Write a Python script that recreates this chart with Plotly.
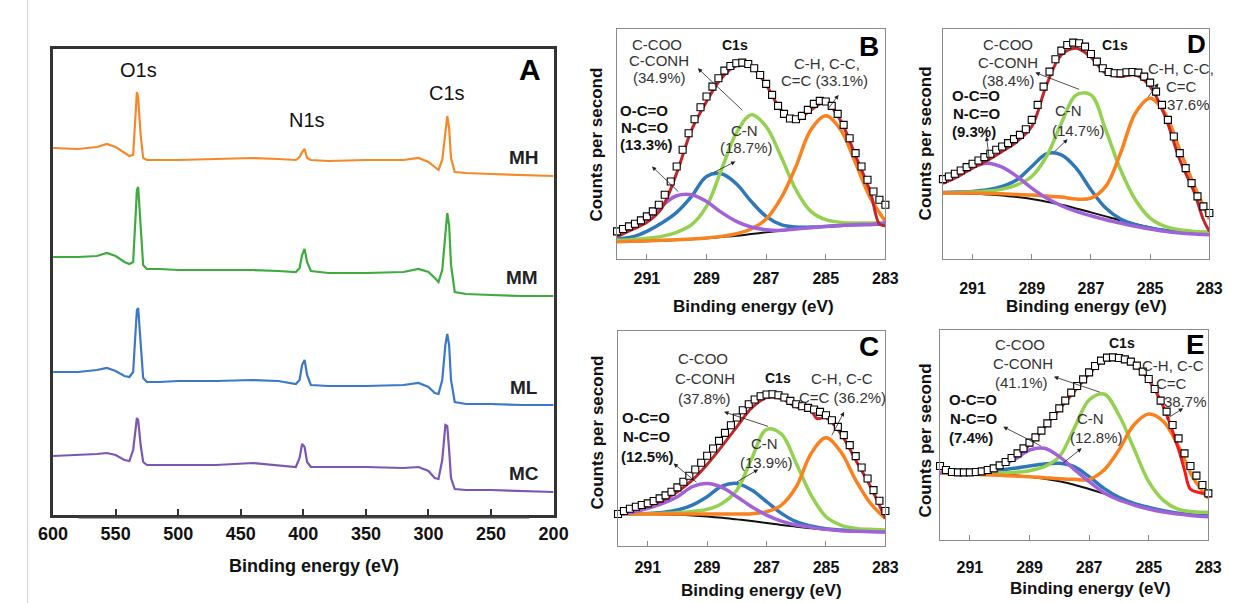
import plotly.graph_objects as go

W, H = 1238, 603
FONT = "Arial, 'Liberation Sans', sans-serif"

# ---------------- Panel A: survey spectra ----------------
survey_energy = [600, 580, 565, 557, 550, 543, 539, 536, 534, 533, 532, 530, 528, 525, 515, 500, 470, 440,
                 420, 406, 403, 401, 399, 397, 394, 380, 350, 320, 308, 300, 295, 292, 289, 286.5, 285,
                 283.5, 282, 279, 270, 250, 225, 200]
survey_mh = [367, 366, 368, 371, 368, 362, 359, 360, 397, 423, 417, 380, 357, 355, 355, 355, 356, 357,
             356, 355, 358, 363, 366, 357, 355, 354, 355, 355, 357, 353, 348, 345, 355, 385, 399,
             387, 357, 343, 342, 341, 340, 339]
survey_mm = [258, 258, 259, 262, 259, 253, 251, 253, 300, 325, 328, 285, 250, 246, 246, 245, 245, 245,
             244, 243, 247, 260, 266, 253, 244, 242, 242, 243, 246, 243, 237, 233, 245, 285, 302,
             290, 250, 223, 221, 220, 219, 219]
survey_ml = [143, 143, 145, 147, 144, 139, 138, 143, 185, 205, 207, 175, 137, 133, 133, 134, 134, 135,
             134, 131, 135, 150, 155, 140, 130, 129, 129, 130, 132, 128, 122, 121, 135, 170, 181,
             170, 135, 113, 111, 111, 110, 110]
survey_mc = [59, 60, 61, 62, 60, 55, 54, 65, 90, 97, 95, 70, 53, 50, 50, 50, 50, 52,
             50, 48, 57, 71, 68, 53, 48, 48, 48, 47, 48, 44, 37, 36, 55, 90, 89,
             65, 37, 26, 25, 25, 24, 23]
survey_names = ["MH", "MM", "ML", "MC"]
survey_colors = ["#f5892a", "#3eab3e", "#3b78c6", "#7c57b2"]
survey_ticks = [600, 550, 500, 450, 400, 350, 300, 250, 200]

# ---------------- C1s panels (B, C, D, E) ----------------
comp_energy = [292.0, 291.5, 291.0, 290.5, 290.0, 289.5, 289.0, 288.5, 288.0, 287.5,
               287.0, 286.5, 286.0, 285.5, 285.0, 284.5, 284.0, 283.5, 283.0]
data_energy = [292.0, 291.8, 291.6, 291.4, 291.2, 291.0, 290.8, 290.6, 290.4, 290.2,
               290.0, 289.8, 289.6, 289.4, 289.2, 289.0, 288.8, 288.6, 288.4, 288.2,
               288.0, 287.8, 287.6, 287.4, 287.2, 287.0, 286.8, 286.6, 286.4, 286.2,
               286.0, 285.8, 285.6, 285.4, 285.2, 285.0, 284.8, 284.6, 284.4, 284.2,
               284.0, 283.8, 283.6, 283.4, 283.2, 283.0]
c1s_ticks = [291, 289, 287, 285, 283]

# Panel B
b_data = [83, 90, 98, 106, 116, 128, 143, 163, 193, 233, 278, 328, 378, 420, 456, 488, 518, 543, 566, 580,
          588, 590, 586, 573, 553, 526, 493, 460, 436, 422, 420, 430, 448, 466, 475, 473, 460, 436, 403, 363,
          318, 278, 238, 203, 178, 163]
b_env_e = [292, 291.5, 291, 290.5, 290, 289.5, 289, 288.5, 288, 287.5, 287, 286.5, 286, 285.5, 285,
           284.5, 284, 283.5, 283.2, 283]
b_env = [68, 88, 110, 153, 258, 388, 473, 543, 580, 578, 523, 448, 416, 448, 470, 415, 310, 200, 105, 100]
b_black = [52, 53, 54, 55, 57, 59, 62, 66, 70, 75, 80, 85, 90, 94, 98, 101, 103, 104, 105]
b_purple = [68, 91, 123, 160, 190, 193, 173, 140, 113, 96, 88, 86, 90, 94, 98, 101, 103, 104, 108]
b_blue = [60, 66, 83, 108, 140, 188, 248, 256, 226, 173, 128, 103, 96, 96, 98, 101, 103, 104, 105]
b_green = [56, 58, 62, 68, 80, 103, 158, 268, 378, 433, 398, 308, 208, 143, 118, 110, 108, 108, 108]
b_orange = [52, 53, 54, 56, 58, 60, 63, 68, 76, 90, 120, 183, 278, 388, 430, 388, 288, 183, 113]

# Panel C
c_data = [96, 105, 112, 118, 123, 128, 135, 143, 152, 163, 176, 193, 211, 230, 250, 271, 293, 316, 340, 363,
          386, 408, 426, 440, 450, 455, 456, 453, 446, 436, 426, 420, 415, 410, 403, 393, 378, 358, 333, 303,
          270, 236, 203, 168, 136, 105]
c_env_e = [292, 291.5, 291, 290.5, 290, 289.5, 289, 288.5, 288, 287.5, 287, 286.5, 286, 285.5, 285.3,
           285, 284.5, 284, 283.5, 283]
c_env = [93, 108, 120, 136, 163, 198, 245, 300, 358, 415, 446, 443, 418, 406, 383, 386, 338, 258, 178, 83]
c_black = [96, 96, 96, 95, 94, 92, 89, 85, 80, 75, 69, 63, 58, 53, 49, 46, 44, 43, 43]
c_purple = [93, 101, 113, 128, 148, 178, 188, 176, 148, 118, 93, 75, 63, 56, 50, 46, 44, 43, 42]
c_blue = [96, 97, 98, 101, 108, 123, 148, 180, 188, 168, 133, 98, 73, 60, 52, 48, 45, 44, 43]
c_green = [96, 96, 97, 98, 100, 104, 110, 128, 168, 263, 350, 336, 248, 153, 88, 63, 53, 50, 48]
c_orange = [96, 96, 96, 96, 96, 96, 96, 96, 96, 97, 103, 123, 178, 278, 325, 283, 198, 128, 83]

# Panel D
d_data = [240, 248, 256, 266, 276, 286, 296, 306, 316, 328, 338, 348, 360, 373, 390, 418, 463, 518, 563, 600,
          626, 643, 650, 648, 638, 616, 593, 573, 562, 558, 558, 561, 562, 560, 548, 530, 503, 463, 418, 368,
          318, 273, 228, 188, 158, 138]
d_env_e = [292, 291.5, 291, 290.5, 290, 289.5, 289, 288.5, 288, 287.5, 287, 286.5, 286, 285.5, 285,
           284.5, 284, 283.5, 283.2, 283]
d_env = [228, 248, 273, 296, 323, 353, 398, 523, 613, 633, 606, 558, 548, 553, 518, 430, 298, 198, 118, 83]
d_black = [198, 197, 196, 194, 191, 186, 180, 172, 163, 152, 140, 128, 116, 105, 95, 87, 81, 78, 76]
d_purple = [228, 248, 276, 288, 276, 248, 213, 183, 160, 143, 130, 118, 108, 98, 90, 83, 78, 75, 73]
d_blue = [200, 201, 203, 208, 218, 238, 278, 316, 313, 273, 208, 153, 120, 103, 93, 86, 81, 78, 76]
d_green = [198, 199, 201, 204, 210, 223, 248, 308, 408, 493, 493, 388, 268, 178, 123, 98, 88, 83, 81]
d_orange = [198, 198, 198, 197, 196, 194, 192, 189, 186, 180, 183, 218, 318, 438, 483, 438, 328, 218, 120]

# Panel E
e_data = [222, 210, 204, 203, 203, 203, 204, 206, 210, 215, 224, 234, 246, 260, 275, 292, 308, 328, 350, 372,
          395, 418, 442, 462, 482, 503, 522, 538, 547, 548, 546, 542, 535, 523, 505, 483, 453, 418, 385, 345,
          305, 260, 222, 193, 165, 140]
e_env_e = [292, 291.5, 291, 290.5, 290, 289.5, 289, 288.5, 288, 287.5, 287, 286.5, 286, 285.5, 285,
           284.5, 284, 283.8, 283.6, 283.3, 283]
e_env = [215, 202, 202, 206, 220, 250, 285, 338, 392, 445, 498, 540, 542, 527, 480, 398, 272, 210, 152, 142, 135]
e_black = [202, 201, 200, 199, 197, 194, 190, 184, 176, 166, 153, 139, 124, 110, 98, 88, 80, 75, 72]
e_purple = [202, 203, 205, 210, 222, 242, 270, 275, 250, 212, 175, 142, 120, 105, 93, 84, 78, 73, 70]
e_blue = [202, 203, 204, 206, 210, 215, 222, 228, 230, 220, 190, 155, 128, 110, 98, 88, 80, 75, 72]
e_green = [200, 200, 200, 200, 201, 203, 208, 220, 250, 335, 420, 438, 375, 275, 175, 118, 92, 85, 83]
e_orange = [200, 199, 198, 196, 194, 192, 190, 187, 184, 182, 182, 210, 270, 345, 378, 355, 280, 185, 125]

COL_PURPLE = "#a062d6"
COL_BLUE = "#2f77b7"
COL_GREEN = "#94d150"
COL_ORANGE = "#f9811f"
COL_BLACK = "#111111"

fig = go.Figure()

# survey traces
for name, vals, col in zip(survey_names, [survey_mh, survey_mm, survey_ml, survey_mc], survey_colors):
    fig.add_trace(go.Scatter(x=survey_energy, y=vals, mode="lines", name=name,
                             line=dict(color=col, width=2.2), xaxis="x", yaxis="y", showlegend=False))


def add_c1s(ax, data, env_e, env, black, purple, blue, green, orange, env_col):
    xa, ya = "x" + ax, "y" + ax
    fig.add_trace(go.Scatter(x=comp_energy, y=black, mode="lines", line=dict(color=COL_BLACK, width=2, shape="spline"),
                             xaxis=xa, yaxis=ya, showlegend=False, name="background"))
    fig.add_trace(go.Scatter(x=comp_energy, y=blue, mode="lines", line=dict(color=COL_BLUE, width=3.5, shape="spline"),
                             xaxis=xa, yaxis=ya, showlegend=False, name="C-N"))
    fig.add_trace(go.Scatter(x=comp_energy, y=green, mode="lines", line=dict(color=COL_GREEN, width=3.5, shape="spline"),
                             xaxis=xa, yaxis=ya, showlegend=False, name="C-COO / C-CONH"))
    fig.add_trace(go.Scatter(x=comp_energy, y=orange, mode="lines", line=dict(color=COL_ORANGE, width=3.5, shape="spline"),
                             xaxis=xa, yaxis=ya, showlegend=False, name="C-H, C-C, C=C"))
    fig.add_trace(go.Scatter(x=comp_energy, y=purple, mode="lines", line=dict(color=COL_PURPLE, width=3.5, shape="spline"),
                             xaxis=xa, yaxis=ya, showlegend=False, name="O-C=O / N-C=O"))
    fig.add_trace(go.Scatter(x=env_e, y=env, mode="lines", line=dict(color=env_col, width=3, shape="spline"),
                             xaxis=xa, yaxis=ya, showlegend=False, name="envelope"))
    fig.add_trace(go.Scatter(x=data_energy, y=data, mode="markers", cliponaxis=False,
                             marker=dict(symbol="square", size=7, color="white", line=dict(color="black", width=1.1)),
                             xaxis=xa, yaxis=ya, showlegend=False, name="data"))


add_c1s("2", b_data, b_env_e, b_env, b_black, b_purple, b_blue, b_green, b_orange, "#c0262b")
add_c1s("3", c_data, c_env_e, c_env, c_black, c_purple, c_blue, c_green, c_orange, "#c0262b")
add_c1s("4", d_data, d_env_e, d_env, d_black, d_purple, d_blue, d_green, d_orange, "#c0262b")
add_c1s("5", e_data, e_env_e, e_env, e_black, e_purple, e_blue, e_green, e_orange, "#f21a1a")


def dom_x(a, b):
    return [a / W, b / W]


def dom_y(top, bottom):
    return [1 - bottom / H, 1 - top / H]


# Panel A axes
fig.update_layout(
    xaxis=dict(domain=dom_x(39, 552), range=[600, 200], tickvals=survey_ticks, ticks="inside", ticklen=6,
               tickwidth=2, tickcolor="#333", showline=True, mirror=True, linewidth=2.5, linecolor="#333",
               showgrid=False, zeroline=False, anchor="y", ticklabelstandoff=1,
               tickfont=dict(family=FONT, size=18, color="#111", weight="bold")),
    yaxis=dict(domain=dom_y(49, 515), range=[0, 466], showticklabels=False, ticks="", showline=True,
               mirror=True, linewidth=2.5, linecolor="#333", showgrid=False, zeroline=False, anchor="x"),
)

c1s_geo = {
    "2": (617, 892, 29, 259, 691, 5),
    "3": (618, 892, 331, 546, 646, 7),
    "4": (951, 1224, 29, 259, 691, 15),
    "5": (948, 1223, 330, 540, 630, 13),
}
for ax, (x0, x1, t, b, ymax, so) in c1s_geo.items():
    fig.update_layout(**{
        "xaxis" + ax: dict(domain=dom_x(x0, x1), range=[292, 283], tickvals=c1s_ticks, ticks="inside", ticklen=5,
                           tickwidth=1, tickcolor="#888", showline=True, mirror=True, linewidth=1,
                           linecolor="#8a8a8a", showgrid=False, zeroline=False, anchor="y" + ax,
                           ticklabelstandoff=so,
                           tickfont=dict(family=FONT, size=16, color="#111", weight="bold")),
        "yaxis" + ax: dict(domain=dom_y(t, b), range=[0, ymax], showticklabels=False, ticks="", showline=True,
                           mirror=True, linewidth=1, linecolor="#8a8a8a", showgrid=False, zeroline=False,
                           anchor="x" + ax),
    })

ann = []


def txt(x, y, s, size=15, bold=False, color="#333", angle=0):
    ann.append(dict(x=x / W, y=1 - y / H, xref="paper", yref="paper", text=s, showarrow=False,
                    xanchor="center", yanchor="middle", textangle=angle,
                    font=dict(family=FONT, size=size, color=color, weight="bold" if bold else "normal")))


def arrow(ax, tail, head):
    ann.append(dict(x=head[0], y=head[1], ax=tail[0], ay=tail[1], xref="x" + ax, yref="y" + ax,
                    axref="x" + ax, ayref="y" + ax, text="", showarrow=True, arrowhead=2, arrowsize=1.1,
                    arrowwidth=0.8, arrowcolor="#222", standoff=0, startstandoff=0))


# Panel A labels
txt(127, 70, "O1s", 20, False, "#111")
txt(299, 120, "N1s", 20, False, "#111")
txt(443, 93, "C1s", 20, False, "#111")
txt(528, 69, "A", 30, True, "#000")
txt(522, 158, "MH", 19, True, "#222")
txt(520, 277, "MM", 19, True, "#222")
txt(522, 387, "ML", 19, True, "#222")
txt(522, 473, "MC", 19, True, "#222")
txt(306, 566, "Binding energy (eV)", 18, True, "#111")

# Panel B
txt(658, 45, "C-COO"); txt(660, 61, "C-CONH"); txt(660, 78, "(34.9%)")
txt(738, 45, "C1s", 14, True, "#111")
txt(875, 47, "B", 28, True, "#000")
txt(832, 64, "C-H, C-C,"); txt(830, 81, "C=C (33.1%)")
txt(645, 110, "O-C=O", 15, True, "#111"); txt(645, 127, "N-C=O", 15, True, "#111"); txt(647, 144, "(13.3%)", 15, True, "#111")
txt(748, 130, "C-N"); txt(750, 147, "(18.7%)")
txt(757, 306, "Binding energy (eV)", 17, True, "#111")
txt(595, 145, "Counts per second", 17, True, "#111", -90)
arrow("2", (287.75, 443), (289.29, 573))
arrow("2", (288.80, 258), (288.03, 293))
arrow("2", (289.89, 198), (290.83, 278))
arrow("2", (284.95, 448), (284.57, 493))

# Panel D
txt(1018, 45, "C-COO"); txt(1018, 63, "C-CONH"); txt(1018, 81, "(38.4%)")
txt(1127, 45, "C1s", 14, True, "#111")
txt(1211, 44, "D", 26, True, "#000")
txt(1195, 68, "C-H, C-C,"); txt(1195, 86, "C=C"); txt(1203, 105, "37.6%")
txt(985, 95, "O-C=O", 15, True, "#111"); txt(985, 113, "N-C=O", 15, True, "#111"); txt(983, 131, "(9.3%)", 15, True, "#111")
txt(1080, 110, "C-N"); txt(1090, 130, "(14.7%)")
txt(1098, 306, "Binding energy (eV)", 17, True, "#111")
txt(933, 143, "Counts per second", 17, True, "#111", -90)
arrow("4", (287.35, 508), (288.88, 560))
arrow("4", (288.28, 318), (287.79, 360))
arrow("4", (290.42, 290), (290.53, 368))
arrow("4", (285.10, 483), (284.72, 528))

# Panel C
txt(705, 358, "C-COO"); txt(707, 378, "C-CONH"); txt(707, 398, "(37.8%)")
txt(782, 378, "C1s", 14, True, "#111")
txt(875, 346, "C", 28, True, "#000")
txt(848, 378, "C-H, C-C"); txt(848, 397, "C=C (36.2%)")
txt(647, 417, "O-C=O", 15, True, "#111"); txt(647, 436, "N-C=O", 15, True, "#111"); txt(648, 456, "(12.5%)", 15, True, "#111")
txt(768, 443, "C-N"); txt(770, 463, "(13.9%)")
txt(765, 590, "Binding energy (eV)", 17, True, "#111")
txt(597, 433, "Counts per second", 17, True, "#111", -90)
arrow("3", (286.90, 358), (288.43, 403))
arrow("3", (288.05, 190), (287.28, 230))
arrow("3", (289.31, 188), (290.13, 248))
arrow("3", (284.83, 328), (284.39, 403))

# Panel E
txt(1030, 345, "C-COO"); txt(1033, 363, "C-CONH"); txt(1032, 382, "(41.1%)")
txt(1135, 343, "C1s", 14, True, "#111")
txt(1210, 344, "E", 28, True, "#000")
txt(1187, 365, "C-H, C-C"); txt(1185, 383, "C=C"); txt(1200, 401, "38.7%")
txt(982, 399, "O-C=O", 15, True, "#111"); txt(982, 418, "N-C=O", 15, True, "#111"); txt(980, 437, "(7.4%)", 15, True, "#111")
txt(1102, 418, "C-N"); txt(1108, 437, "(12.8%)")
txt(1102, 588, "Binding energy (eV)", 17, True, "#111")
txt(933, 440, "Counts per second", 17, True, "#111", -90)
arrow("5", (286.59, 442), (288.18, 490))
arrow("5", (287.91, 228), (287.25, 275))
arrow("5", (288.57, 280), (289.88, 340))
arrow("5", (284.46, 360), (283.85, 395))

shapes = [
    dict(type="line", xref="paper", yref="paper", x0=13 / W, x1=13 / W, y0=0, y1=1,
         line=dict(color="#cfcfcf", width=1)),
    dict(type="line", xref="paper", yref="paper", x0=65 / W, x1=527 / W, y0=1 - 517.5 / H, y1=1 - 517.5 / H,
         line=dict(color="#444", width=2)),
]

fig.update_layout(width=W, height=H, autosize=False, margin=dict(l=0, r=0, t=0, b=0),
                  paper_bgcolor="white", plot_bgcolor="white", annotations=ann, shapes=shapes,
                  font=dict(family=FONT))
fig.write_html("out.html", config={"displayModeBar": False},
               post_script="document.body.style.margin='0';document.body.style.overflow='hidden';")
